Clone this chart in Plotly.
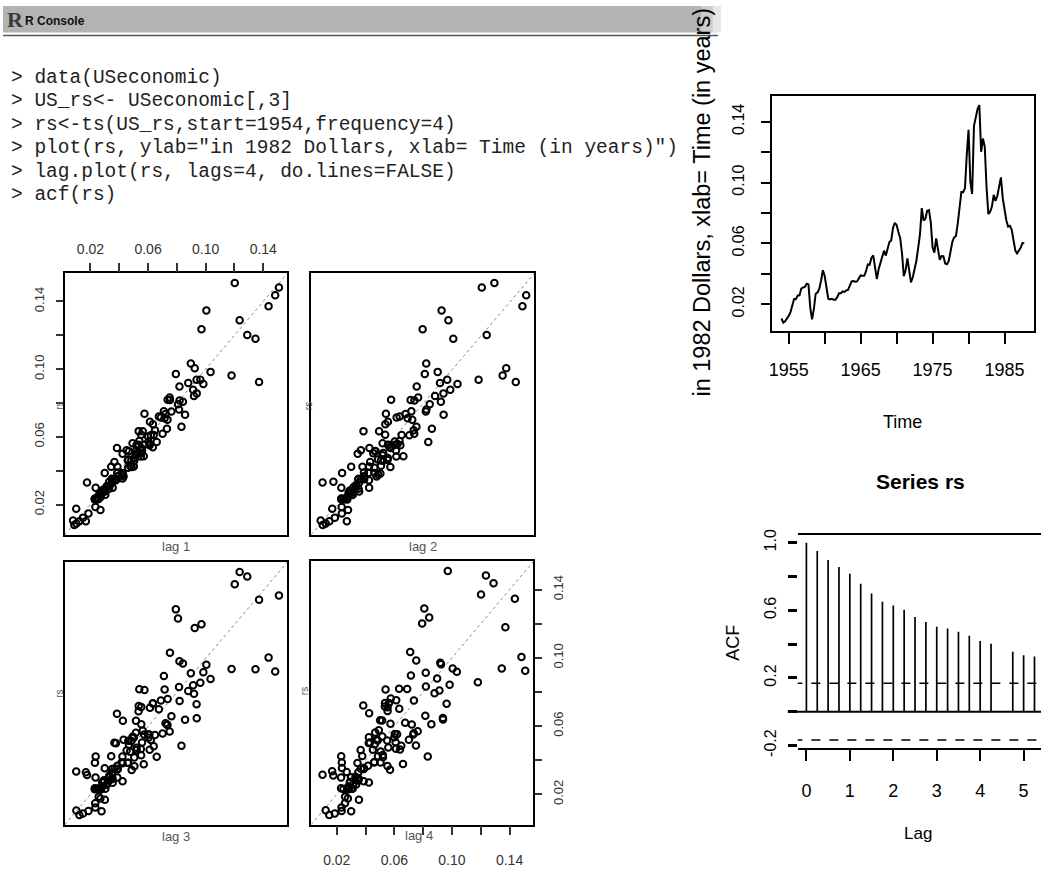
import plotly.graph_objects as go

W, H = 1041, 873

# ---------------- data ----------------
start_year = 1954
frequency = 4
rs = [
    0.0106, 0.0079, 0.0088, 0.0102,
    0.0123, 0.0148, 0.0186, 0.0234,
    0.0233, 0.0257, 0.0258, 0.0303,
    0.0310, 0.0314, 0.0335, 0.0330,
    0.0176, 0.0101, 0.0168, 0.0269,
    0.0277, 0.0300, 0.0354, 0.0423,
    0.0387, 0.0299, 0.0236, 0.0231,
    0.0235, 0.0230, 0.0230, 0.0246,
    0.0272, 0.0272, 0.0284, 0.0281,
    0.0291, 0.0294, 0.0329, 0.0350,
    0.0353, 0.0348, 0.0350, 0.0368,
    0.0389, 0.0387, 0.0387, 0.0417,
    0.0461, 0.0459, 0.0504, 0.0521,
    0.0451, 0.0366, 0.0430, 0.0475,
    0.0505, 0.0552, 0.0520, 0.0558,
    0.0609, 0.0619, 0.0701, 0.0735,
    0.0721, 0.0675, 0.0634, 0.0535,
    0.0384, 0.0425, 0.0501, 0.0423,
    0.0344, 0.0377, 0.0422, 0.0486,
    0.0570, 0.0660, 0.0832, 0.0750,
    0.0762, 0.0815, 0.0819, 0.0736,
    0.0575, 0.0539, 0.0633, 0.0563,
    0.0492, 0.0516, 0.0515, 0.0467,
    0.0463, 0.0484, 0.0550, 0.0611,
    0.0639, 0.0648, 0.0731, 0.0857,
    0.0938, 0.0937, 0.0963, 0.1180,
    0.1346, 0.1005, 0.0924, 0.1371,
    0.1437, 0.1483, 0.1509, 0.1202,
    0.1289, 0.1236, 0.0971, 0.0793,
    0.0808, 0.0842, 0.0919, 0.0879,
    0.0913, 0.0984, 0.1034, 0.0897,
    0.0818, 0.0752, 0.0710, 0.0715,
    0.0689, 0.0613, 0.0553, 0.0534,
    0.0553, 0.0573, 0.0603, 0.0600,
]
time_points = [start_year + i / frequency for i in range(len(rs))]

time_ticks = [1955, 1960, 1965, 1970, 1975, 1980, 1985]
time_tick_labels = ["1955", "", "1965", "", "1975", "", "1985"]
level_ticks = [0.02, 0.04, 0.06, 0.08, 0.10, 0.12, 0.14]
level_tick_labels = ["0.02", "", "0.06", "", "0.10", "", "0.14"]

lags = [1, 2, 3, 4]

acf_lags = [0.0, 0.25, 0.5, 0.75, 1.0, 1.25, 1.5, 1.75, 2.0, 2.25, 2.5, 2.75,
            3.0, 3.25, 3.5, 3.75, 4.0, 4.25, 4.75, 5.0, 5.25]
acf_values = [1.0, 0.951, 0.897, 0.856, 0.817, 0.757, 0.700, 0.651, 0.628, 0.603,
              0.560, 0.531, 0.502, 0.493, 0.473, 0.450, 0.419, 0.402, 0.354, 0.334, 0.327]
acf_ticks = [-0.2, 0.0, 0.2, 0.4, 0.6, 0.8, 1.0]
acf_tick_labels = ["-0.2", "", "0.2", "", "0.6", "", "1.0"]
lag_axis_ticks = [0, 1, 2, 3, 4, 5]
conf_limit = 0.168

console_lines = [
    "&gt; data(USeconomic)",
    "&gt; US_rs&lt;- USeconomic[,3]",
    "&gt; rs&lt;-ts(US_rs,start=1954,frequency=4)",
    "&gt; plot(rs, ylab=\"in 1982 Dollars, xlab= Time (in years)\")",
    "&gt; lag.plot(rs, lags=4, do.lines=FALSE)",
    "&gt; acf(rs)",
]

# ---------------- helpers ----------------
def px(x):
    return x / W

def py(y):
    return 1 - y / H

SANS = "Liberation Sans, Arial, sans-serif"
MONO = "Liberation Mono, Courier New, monospace"

lo = min(rs) - 0.04 * (max(rs) - min(rs))
hi = max(rs) + 0.04 * (max(rs) - min(rs))
t_lo = time_points[0] - 0.04 * (time_points[-1] - time_points[0])
t_hi = time_points[-1] + 0.04 * (time_points[-1] - time_points[0])

fig = go.Figure()

# lag plots
panels = {
    1: dict(x=(62, 285), y=(272, 538)),
    2: dict(x=(309, 533), y=(272, 538)),
    3: dict(x=(62, 285), y=(566, 833)),
    4: dict(x=(309, 532), y=(565, 833)),
}
layout_axes = {}
for k in lags:
    xs = rs[k:]
    ys = rs[:len(rs) - k]
    xa = "x" if k == 1 else f"x{k}"
    ya = "y" if k == 1 else f"y{k}"
    fig.add_trace(go.Scatter(x=[lo, hi], y=[lo, hi], mode="lines", xaxis=xa, yaxis=ya,
                             line=dict(color="#8a8a8a", width=1, dash="dot"),
                             showlegend=False, hoverinfo="skip"))
    fig.add_trace(go.Scatter(x=xs, y=ys, mode="markers", xaxis=xa, yaxis=ya,
                             marker=dict(symbol="circle-open", size=6.5, color="black",
                                         line=dict(width=2, color="black")),
                             showlegend=False))
    p = panels[k]
    xkey = "xaxis" if k == 1 else f"xaxis{k}"
    ykey = "yaxis" if k == 1 else f"yaxis{k}"
    base = dict(showgrid=False, zeroline=False, showline=True, linecolor="black",
                linewidth=1.5, mirror=True, range=[lo, hi])
    xd = dict(base, domain=[px(p["x"][0]), px(p["x"][1])], anchor=ya)
    yd = dict(base, domain=[py(p["y"][1]), py(p["y"][0])], anchor=xa)
    if k == 1:
        xd.update(side="top", tickvals=level_ticks, ticktext=level_tick_labels,
                  ticks="outside", ticklen=9, tickwidth=1.5, tickcolor="#333",
                  ticklabelstandoff=3,
                  tickfont=dict(family=SANS, size=14, color="#333"))
        yd.update(tickvals=level_ticks, ticktext=level_tick_labels,
                  ticks="outside", ticklen=7, tickwidth=1.5, tickcolor="#333",
                  tickangle=-90, ticklabelstandoff=7,
                  tickfont=dict(family=SANS, size=13, color="#333"))
    elif k == 4:
        xd.update(tickvals=level_ticks, ticktext=level_tick_labels,
                  ticks="outside", ticklen=9, tickwidth=1.5, tickcolor="#333",
                  ticklabelstandoff=13,
                  tickfont=dict(family=SANS, size=14, color="#333"))
        yd.update(side="right", tickvals=level_ticks, ticktext=level_tick_labels,
                  ticks="outside", ticklen=7, tickwidth=1.5, tickcolor="#333",
                  tickangle=-90, ticklabelstandoff=5,
                  tickfont=dict(family=SANS, size=13, color="#333"))
    else:
        xd.update(showticklabels=False, ticks="")
        yd.update(showticklabels=False, ticks="")
    layout_axes[xkey] = xd
    layout_axes[ykey] = yd

# time series
fig.add_trace(go.Scatter(x=time_points, y=rs, mode="lines", xaxis="x5", yaxis="y5",
                         line=dict(color="black", width=2), showlegend=False))
layout_axes["xaxis5"] = dict(domain=[px(771), px(1034)], range=[t_lo, t_hi], anchor="y5",
                             tickvals=time_ticks, ticktext=time_tick_labels,
                             ticks="outside", ticklen=11, tickwidth=2, tickcolor="black",
                             showline=True, linecolor="black", linewidth=2, mirror=True,
                             showgrid=False, zeroline=False, ticklabelstandoff=10,
                             tickfont=dict(family=SANS, size=18, color="black"))
layout_axes["yaxis5"] = dict(domain=[py(331), py(92)], range=[lo, hi], anchor="x5",
                             tickvals=level_ticks, ticktext=level_tick_labels,
                             ticks="outside", ticklen=9, tickwidth=2, tickcolor="black",
                             showline=True, linecolor="black", linewidth=2, mirror=True,
                             showgrid=False, zeroline=False, tickangle=-90,
                             ticklabelstandoff=10,
                             tickfont=dict(family=SANS, size=16, color="black"))

# ACF
ax, ay = [], []
for l, v in zip(acf_lags, acf_values):
    ax += [l, l, None]
    ay += [0, v, None]
fig.add_trace(go.Scatter(x=ax, y=ay, mode="lines", xaxis="x6", yaxis="y6",
                         line=dict(color="black", width=1.7), showlegend=False))
for s in (1, -1):
    fig.add_trace(go.Scatter(x=[-0.3, 5.6], y=[s * conf_limit] * 2, mode="lines",
                             xaxis="x6", yaxis="y6",
                             line=dict(color="black", width=1.5, dash="dash"),
                             showlegend=False))
layout_axes["xaxis6"] = dict(domain=[px(797), 1.0], range=[-0.2, 5.40], anchor="y6",
                             tickvals=lag_axis_ticks, ticks="outside", ticklen=11,
                             tickwidth=2, tickcolor="black",
                             showline=True, linecolor="black", linewidth=2, mirror=True,
                             showgrid=False, zeroline=False, ticklabelstandoff=14,
                             tickfont=dict(family=SANS, size=18, color="black"))
layout_axes["yaxis6"] = dict(domain=[py(755), py(538)], range=[-0.215, 1.047], anchor="x6",
                             tickvals=acf_ticks, ticktext=acf_tick_labels,
                             ticks="outside", ticklen=9, tickwidth=2.5, tickcolor="black",
                             showline=False, showgrid=False, zeroline=False, tickangle=-90,
                             ticklabelstandoff=5,
                             tickfont=dict(family=SANS, size=16, color="black"))

shapes = [
    # header band
    dict(type="rect", xref="paper", yref="paper", x0=0, x1=px(700), y0=py(27), y1=1,
         fillcolor="#b3b3b3", line=dict(width=0), layer="below"),
    dict(type="rect", xref="paper", yref="paper", x0=px(700), x1=px(712), y0=py(27), y1=1,
         fillcolor="#cdcdcd", line=dict(width=0), layer="below"),
    dict(type="rect", xref="paper", yref="paper", x0=px(712), x1=px(720), y0=py(27), y1=1,
         fillcolor="#e6e6e6", line=dict(width=0), layer="below"),
    dict(type="line", xref="paper", yref="paper", x0=0, x1=px(717), y0=py(30), y1=py(30),
         line=dict(color="#555555", width=1.5)),
    # ACF zero line
    dict(type="line", xref="paper", yref="y6", x0=px(787), x1=1, y0=0, y1=0,
         line=dict(color="black", width=2)),
]

annotations = []
for i, line in enumerate(console_lines):
    annotations.append(dict(text=line, x=px(6), y=py(73 + i * 23.9), xref="paper", yref="paper",
                            xanchor="left", yanchor="middle", showarrow=False,
                            font=dict(family=MONO, size=19.5, color="#222222")))
annotations += [
    dict(text="<b>R</b>", x=px(2), y=py(14), xref="paper", yref="paper", xanchor="left",
         yanchor="middle", showarrow=False,
         font=dict(family="Liberation Serif, serif", size=22, color="#3a3a3a")),
    dict(text="<b>R Console</b>", x=px(20), y=py(15), xref="paper", yref="paper",
         xanchor="left", yanchor="middle", showarrow=False,
         font=dict(family=SANS, size=12, color="#111111")),
    dict(text="in 1982 Dollars, xlab= Time (in years)", x=px(701), y=py(199), xref="paper",
         yref="paper", xanchor="center", yanchor="middle", textangle=-90, showarrow=False,
         font=dict(family=SANS, size=23.5, color="black")),
    dict(text="Time", x=px(902), y=py(423), xref="paper", yref="paper", showarrow=False,
         xanchor="center", yanchor="middle", font=dict(family=SANS, size=18, color="black")),
    dict(text="<b>Series rs</b>", x=px(920), y=py(484), xref="paper", yref="paper",
         showarrow=False, xanchor="center", yanchor="middle",
         font=dict(family=SANS, size=21, color="black")),
    dict(text="ACF", x=px(732), y=py(648), xref="paper", yref="paper", textangle=-90,
         showarrow=False, xanchor="center", yanchor="middle",
         font=dict(family=SANS, size=18, color="black")),
    dict(text="Lag", x=px(918), y=py(842), xref="paper", yref="paper", showarrow=False,
         xanchor="center", yanchor="middle", font=dict(family=SANS, size=17, color="black")),
]
lag_label_pos = {1: (173, 550), 2: (421, 550), 3: (173, 845), 4: (417, 844)}
rs_label_pos = {1: (56, 407), 2: (306, 407), 3: (57, 700), 4: (302, 697)}
for k in lags:
    lx, ly = lag_label_pos[k]
    annotations.append(dict(text=f"lag {k}", x=px(lx), y=py(ly), xref="paper", yref="paper",
                            showarrow=False, xanchor="center", yanchor="middle",
                            font=dict(family=SANS, size=13, color="#555555")))
    rx, ry = rs_label_pos[k]
    annotations.append(dict(text="rs", x=px(rx), y=py(ry), xref="paper", yref="paper",
                            showarrow=False, xanchor="center", yanchor="middle", textangle=-90,
                            font=dict(family=SANS, size=10, color="#555555")))

fig.update_layout(width=W, height=H, autosize=False,
                  margin=dict(l=0, r=0, t=0, b=0, pad=0),
                  paper_bgcolor="white", plot_bgcolor="rgba(0,0,0,0)",
                  showlegend=False, shapes=shapes, annotations=annotations,
                  **layout_axes)

fig.write_html("out.html")
